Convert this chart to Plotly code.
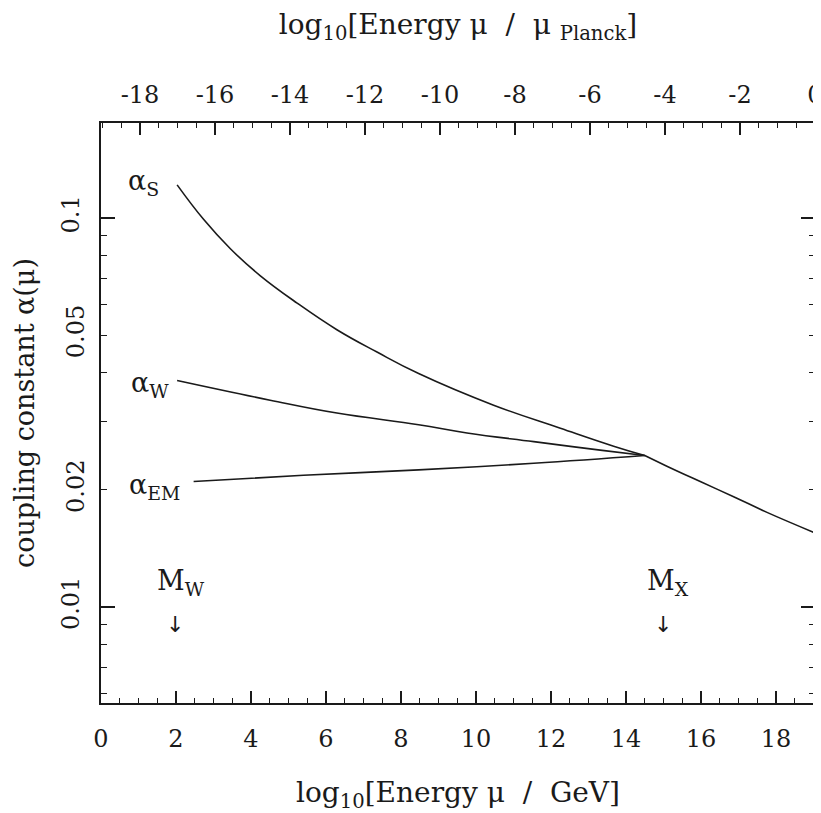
import math
import plotly.graph_objects as go

# ---- data ----
# x = log10(mu / GeV), y = coupling constant alpha(mu)
x_alpha_s = [2.03, 2.74, 3.45, 4.25, 5.23, 6.29, 7.36, 8.47, 10.47, 12.25, 13.67, 14.5]
y_alpha_s = [0.1216, 0.0990, 0.0833, 0.0710, 0.0604, 0.0516, 0.0452, 0.0398, 0.0330, 0.0288, 0.0259, 0.0245]

x_alpha_w = [2.03, 4.51, 6.29, 8.47, 9.76, 11.54, 13.31, 14.5]
y_alpha_w = [0.0382, 0.0340, 0.0315, 0.0294, 0.0280, 0.0266, 0.0253, 0.0245]

x_alpha_em = [2.47, 5.40, 8.47, 11.54, 14.5]
y_alpha_em = [0.0210, 0.0218, 0.0225, 0.0234, 0.0245]

x_unified = [14.5, 15.09, 15.98, 16.87, 17.76, 19.04]
y_unified = [0.0245, 0.0230, 0.0210, 0.0192, 0.0175, 0.0155]

x_bottom_ticks = [0, 2, 4, 6, 8, 10, 12, 14, 16, 18]
x_top_ticks = [-18, -16, -14, -12, -10, -8, -6, -4, -2, 0]
x_top_labels = ["-18", "-16", "-14", "-12", "-10", "-8", "-6", "-4", "-2", "0"]
y_major_ticks = [0.01, 0.1]
y_major_labels = ["0.01", "0.1"]
y_extra_ticks = [0.02, 0.05]
y_extra_labels = ["0.02", "0.05"]

log_planck = 19.04   # offset between the GeV scale and the Planck scale
x_max = 19.04
y_range_log = [-2.247, -0.756]

FONT = "DejaVu Serif"
INK = "#1a1a1a"
NB = "\u00a0"

fig = go.Figure()
line = dict(color=INK, width=1.6, shape="spline", smoothing=1.2)
for xs, ys in [(x_alpha_s, y_alpha_s), (x_alpha_w, y_alpha_w),
               (x_alpha_em, y_alpha_em), (x_unified, y_unified)]:
    fig.add_trace(go.Scatter(x=xs, y=ys, mode="lines", line=line,
                             showlegend=False, hoverinfo="skip"))

# invisible traces to activate the top x axis and the extra y axis
fig.add_trace(go.Scatter(x=[-10], y=[0.05], xaxis="x2", yaxis="y", mode="markers",
                         marker=dict(opacity=0), showlegend=False, hoverinfo="skip"))
fig.add_trace(go.Scatter(x=[10], y=[0.05], xaxis="x", yaxis="y2", mode="markers",
                         marker=dict(opacity=0), showlegend=False, hoverinfo="skip"))

tickfont = dict(family=FONT, size=24, color=INK)
titlefont = dict(family=FONT, size=28, color=INK)

fig.update_layout(
    width=813, height=805,
    margin=dict(l=93, r=6, t=115, b=110),
    paper_bgcolor="white", plot_bgcolor="white",
    xaxis=dict(
        range=[0, x_max], tickmode="array", tickvals=x_bottom_ticks, automargin=False,
        ticks="inside", ticklen=12, tickwidth=1.6, tickcolor=INK,
        minor=dict(dtick=0.5, tick0=0, ticks="inside", ticklen=5, tickwidth=1.3, tickcolor=INK, showgrid=False),
        showline=True, linecolor=INK, linewidth=1.6, mirror=False,
        showgrid=False, zeroline=False, tickfont=tickfont, ticklabelstandoff=13,
        title=dict(text=f"log<sub>10</sub>[Energy μ{NB}{NB}/{NB}{NB}GeV]", font=titlefont, standoff=36),
    ),
    xaxis2=dict(
        overlaying="x", side="top", anchor="y", automargin=False,
        range=[-log_planck, x_max - log_planck], tickmode="array", tickvals=x_top_ticks,
        ticktext=x_top_labels, ticklabeloverflow="allow",
        ticks="inside", ticklen=12, tickwidth=1.6, tickcolor=INK,
        minor=dict(dtick=0.5, tick0=0, ticks="inside", ticklen=5, tickwidth=1.3, tickcolor=INK, showgrid=False),
        showline=True, linecolor=INK, linewidth=1.6,
        showgrid=False, zeroline=False, tickfont=tickfont, ticklabelstandoff=9,
        title=dict(text=f"log<sub>10</sub>[Energy μ{NB}{NB}/{NB}{NB}μ{NB}<sub>Planck</sub>]", font=titlefont, standoff=42),
    ),
    yaxis=dict(
        type="log", range=y_range_log, tickmode="array", automargin=False,
        tickvals=y_major_ticks, ticktext=y_major_labels, tickangle=-90,
        ticks="inside", ticklen=14, tickwidth=1.6, tickcolor=INK,
        minor=dict(dtick="D1", ticks="inside", ticklen=6, tickwidth=1.3, tickcolor=INK, showgrid=False),
        showline=True, linecolor=INK, linewidth=1.6, mirror="ticks",
        showgrid=False, zeroline=False, tickfont=tickfont, ticklabelstandoff=11,
        title=dict(text="coupling constant α(μ)", font=dict(family=FONT, size=27, color=INK), standoff=14),
    ),
    yaxis2=dict(
        type="log", range=y_range_log, overlaying="y", side="left", anchor="x", automargin=False,
        tickmode="array", tickvals=y_extra_ticks, ticktext=y_extra_labels, tickangle=-90,
        ticks="inside", ticklen=6, tickwidth=1.3, tickcolor=INK,
        showline=False, showgrid=False, zeroline=False, tickfont=tickfont, ticklabelstandoff=11,
    ),
)

ann_font = dict(family=FONT, size=27, color=INK)
labels = [
    (1.12, 0.123, "α<sub>S</sub>"),
    (1.31, 0.0372, "α<sub>W</sub>"),
    (1.42, 0.0204, "α<sub>EM</sub>"),
    (2.13, 0.01153, "M<sub>W</sub>"),
    (15.12, 0.01153, "M<sub>X</sub>"),
]
for x, y, t in labels:
    fig.add_annotation(x=x, y=math.log10(y), xref="x", yref="y", text=t,
                       showarrow=False, font=ann_font)
for x in [1.97, 14.99]:
    fig.add_annotation(x=x, y=math.log10(0.009), xref="x", yref="y", text="↓",
                       showarrow=False, font=dict(family="DejaVu Sans", size=22, color=INK))

fig.write_html("out.html")
